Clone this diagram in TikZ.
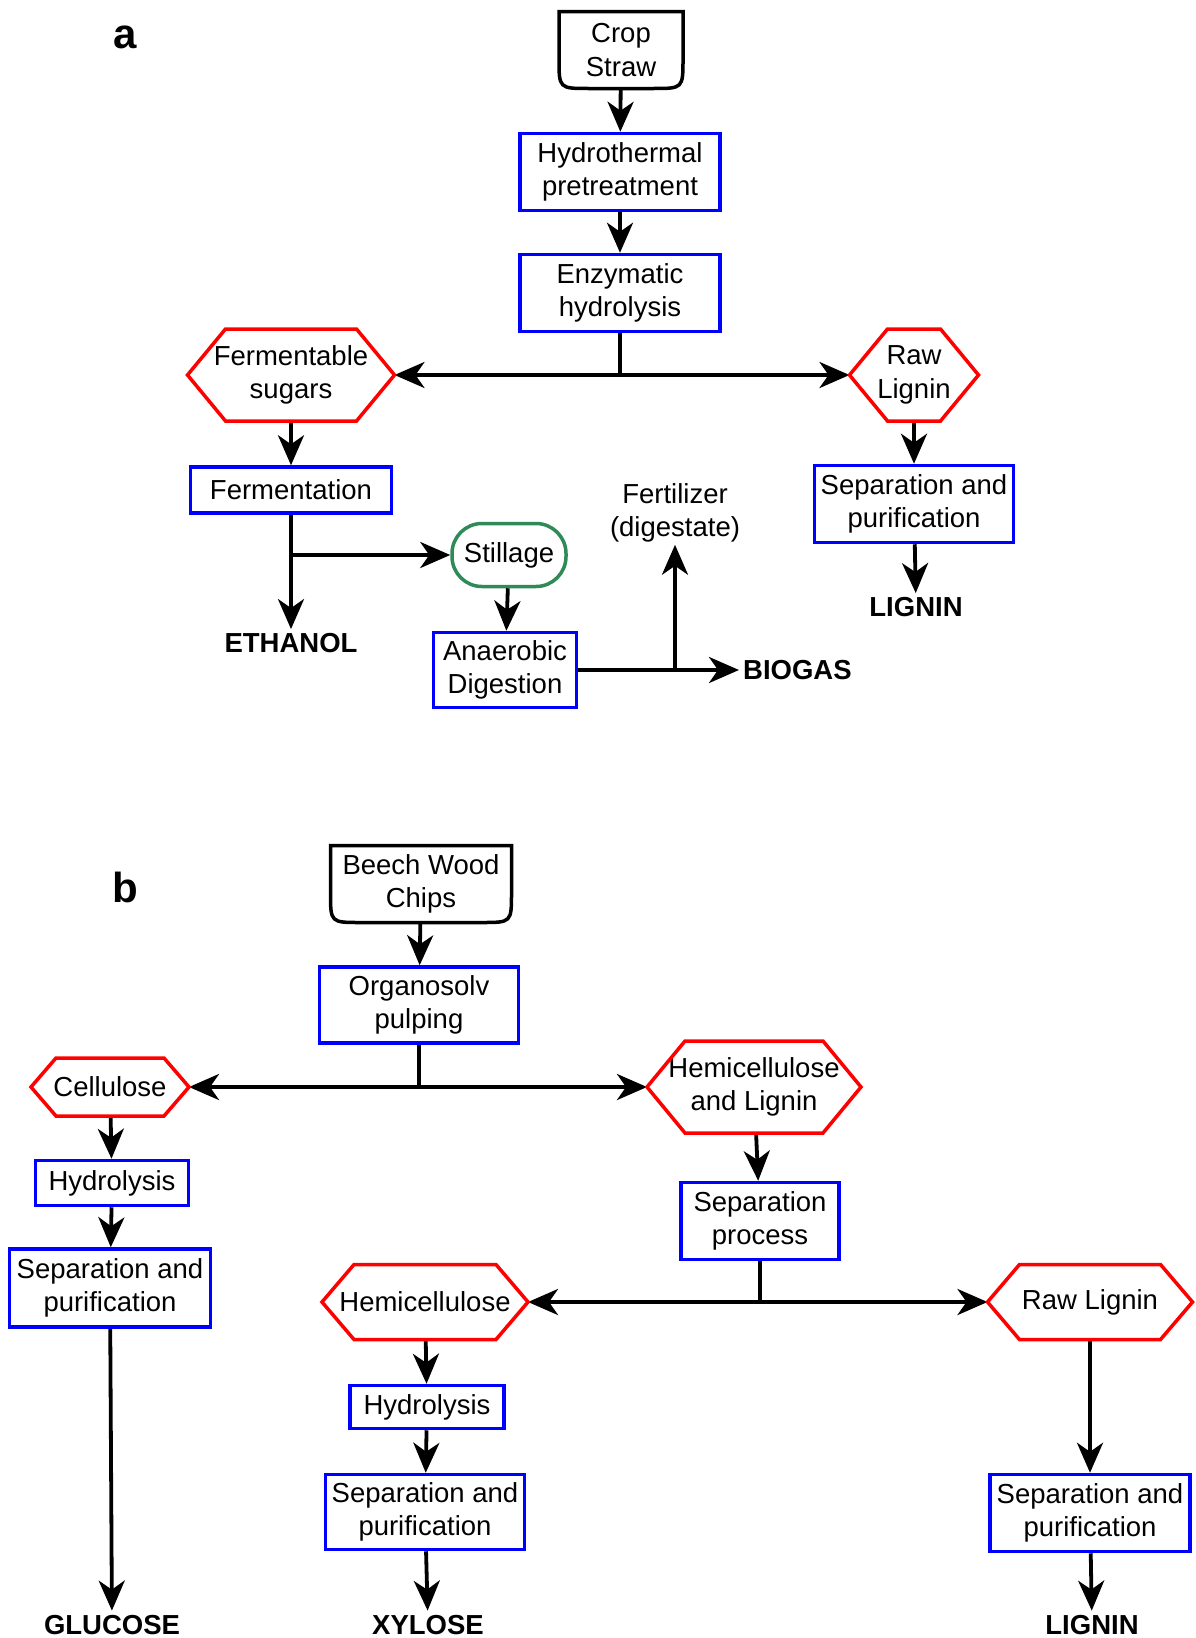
\documentclass[tikz,border=0pt]{standalone}
\usepackage{fontspec}
\setmainfont{Liberation Sans}
\usetikzlibrary{arrows.meta,positioning}

\definecolor{procblue}{RGB}{0,0,255}
\definecolor{prodred}{RGB}{255,0,0}
\definecolor{stillgreen}{RGB}{46,139,87}

\begin{document}
\begin{tikzpicture}[x=1pt,y=-1pt,
    every node/.style={font=\fontsize{27.5}{33.5}\selectfont, align=center, inner sep=2pt},
    proc/.style 2 args={draw=procblue, line width=3.5pt, minimum width=#1, minimum height=#2},
    prod/.style 2 args={outer sep=0pt, minimum width=#1, minimum height=#2},
    feed/.style 2 args={outer sep=0pt, minimum width=#1, minimum height=#2},
    final/.style={font=\bfseries\fontsize{27.5}{33.5}\selectfont, inner sep=4pt},
    panel/.style={font=\bfseries\fontsize{42}{48}\selectfont},
    arr/.style={-{Stealth[length=30pt,width=26pt,inset=9pt]}, line width=3.8pt},
    link/.style={line width=3.8pt}]
    \useasboundingbox (0,0) rectangle (1196,1638);

    % ---------- panel a ----------
    \node[panel] (la) at (125,37) {a};
    \node[feed={124pt}{77pt}] (crop) at (621,50) {Crop\\Straw};
    \node[proc={200pt}{77pt}] (hydro) at (620,172) {Hydrothermal\\pretreatment};
    \node[proc={200pt}{77pt}] (enz) at (620,293) {Enzymatic\\hydrolysis};
    \node[prod={207pt}{92pt}] (sugars) at (291,375) {Fermentable\\sugars};
    \node[prod={129pt}{92pt}] (rawliga) at (914,375) {Raw\\Lignin};
    \node[proc={201pt}{46pt}] (ferm) at (291,490) {Fermentation};
    \node[proc={199pt}{77pt}] (sepa) at (914,504) {Separation and\\purification};
    \node[draw=stillgreen, line width=3.5pt, rounded corners=30pt,
        minimum width=114pt, minimum height=63pt] (still) at (509,555) {Stillage};
    \node[proc={143pt}{75pt}] (ad) at (505,670) {Anaerobic\\Digestion};
    \node[final] (ethanol) at (291,643) {ETHANOL};
    \node[final] (lignina) at (916,607) {LIGNIN};
    \node[final, anchor=west] (biogas) at (739,670) {BIOGAS};
    \node (fert) at (675,513) {Fertilizer\\(digestate)};

    \draw[arr] (crop) -- (hydro);
    \draw[arr] (hydro) -- (enz);
    \coordinate (splita) at (enz.south |- sugars.east);
    \draw[link] (enz.south) -- (splita);
    \draw[arr] (splita) -- (sugars.east);
    \draw[arr] (splita) -- (rawliga.west);
    \draw[arr] (sugars) -- (ferm);
    \draw[arr] (rawliga) -- (sepa);
    \draw[arr] (sepa) -- (lignina);
    \draw[arr] (ferm) -- (ethanol);
    \coordinate (branch) at (ferm.south |- still.west);
    \draw[arr] (branch) -- (still.west);
    \draw[arr] (still) -- (ad);
    \draw[arr] (ad.east) -- (biogas.west);
    \coordinate (digest) at (fert.south |- ad.east);
    \draw[arr] (digest) -- (fert.south);

    % ---------- panel b ----------
    \node[panel] (lb) at (125,887) {b};
    \node[feed={181pt}{77pt}] (beech) at (421,884) {Beech Wood\\Chips};
    \node[proc={199pt}{76pt}] (organo) at (419,1005) {Organosolv\\pulping};
    \node[prod={158pt}{58pt}] (cellu) at (110,1087) {Cellulose};
    \node[prod={214pt}{92pt}] (hemilig) at (754,1087) {Hemicellulose\\and Lignin};
    \node[proc={153pt}{45pt}] (hydl) at (112,1183) {Hydrolysis};
    \node[proc={201pt}{78pt}] (sepl) at (110,1288) {Separation and\\purification};
    \node[proc={158pt}{77pt}] (sepproc) at (760,1221) {Separation\\process};
    \node[prod={206pt}{75pt}] (hemi) at (425,1302) {Hemicellulose};
    \node[prod={205pt}{75pt}] (rawligb) at (1090,1302) {Raw Lignin};
    \node[proc={154pt}{43pt}] (hydm) at (427,1407) {Hydrolysis};
    \node[proc={199pt}{75pt}] (sepm) at (425,1512) {Separation and\\purification};
    \node[proc={200pt}{77pt}] (sepr) at (1090,1513) {Separation and\\purification};
    \node[final, anchor=base] (glucose) at (112,1634) {GLUCOSE};
    \node[final, anchor=base] (xylose) at (428,1634) {XYLOSE};
    \node[final, anchor=base] (ligninb) at (1092,1634) {LIGNIN};

    \draw[arr] (beech) -- (organo);
    \coordinate (splitb) at (organo.south |- cellu.east);
    \draw[link] (organo.south) -- (splitb);
    \draw[arr] (splitb) -- (cellu.east);
    \draw[arr] (splitb) -- (hemilig.west);
    \draw[arr] (cellu) -- (hydl);
    \draw[arr] (hydl) -- (sepl);
    \draw[arr] (sepl) -- (glucose);
    \draw[arr] (hemilig) -- (sepproc);
    \coordinate (splitc) at (sepproc.south |- hemi.east);
    \draw[link] (sepproc.south) -- (splitc);
    \draw[arr] (splitc) -- (hemi.east);
    \draw[arr] (splitc) -- (rawligb.west);
    \draw[arr] (hemi) -- (hydm);
    \draw[arr] (hydm) -- (sepm);
    \draw[arr] (sepm) -- (xylose);
    \draw[arr] (rawligb) -- (sepr);
    \draw[arr] (sepr) -- (ligninb);

    % hexagons for the products
    \foreach \n/\o in {sugars/38,rawliga/38,cellu/25,hemilig/38,hemi/32,rawligb/32}
        \draw[prodred, line width=3.5pt] ([xshift=\o pt]\n.north west) -- ([xshift=-\o pt]\n.north east)
            -- (\n.east) -- ([xshift=-\o pt]\n.south east) -- ([xshift=\o pt]\n.south west)
            -- (\n.west) -- cycle;

    % feedstock boxes with rounded bottom
    \foreach \n in {crop,beech}
        \draw[line width=3.5pt] (\n.north west) -- (\n.north east)
            -- ([yshift=30pt]\n.south east) .. controls (\n.south east) .. ([xshift=-30pt]\n.south east)
            -- ([xshift=30pt]\n.south west) .. controls (\n.south west) .. ([yshift=30pt]\n.south west)
            -- cycle;
\end{tikzpicture}
\end{document}
